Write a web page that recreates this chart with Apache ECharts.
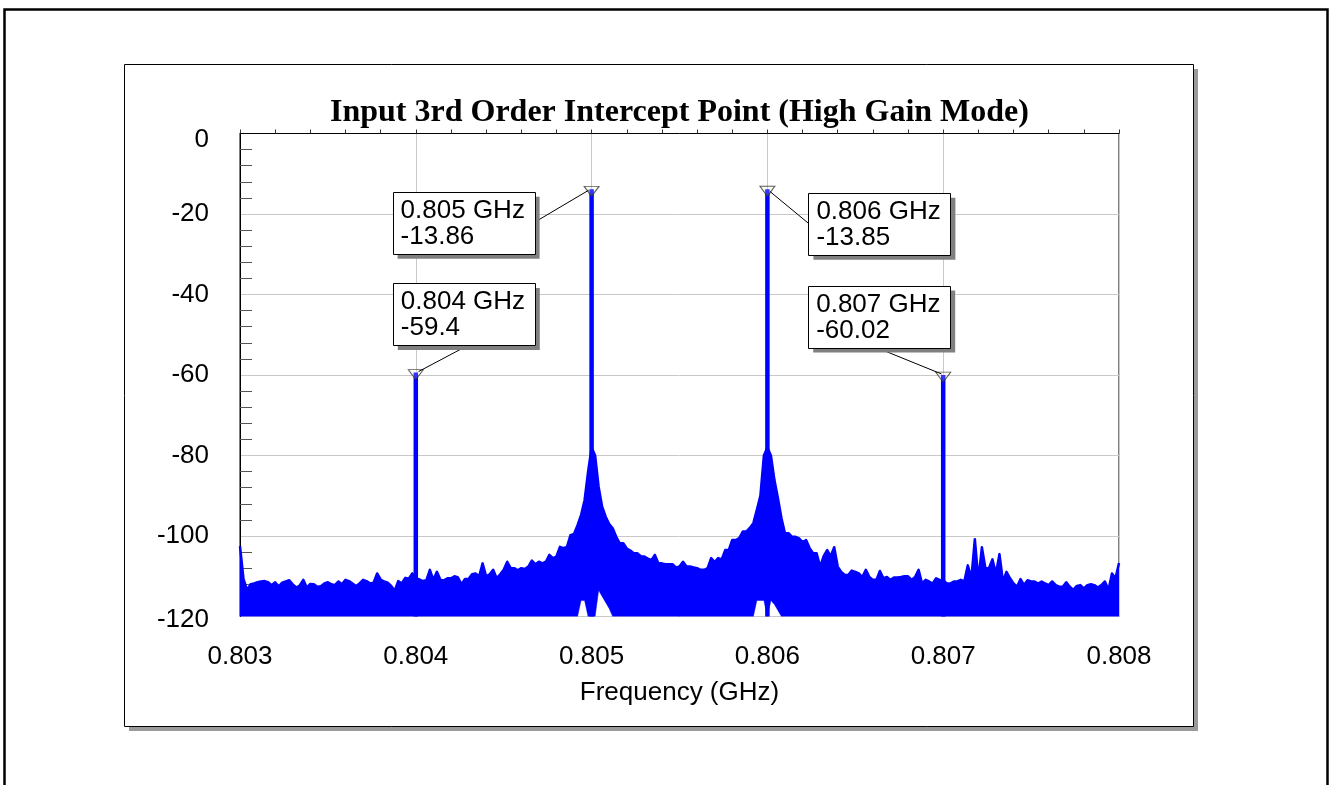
<!DOCTYPE html>
<html><head><meta charset="utf-8">
<script src="https://cdn.jsdelivr.net/npm/echarts@6/dist/echarts.min.js"></script>
<style>html,body{margin:0;padding:0;background:#fff}#c{width:1330px;height:785px}</style>
</head><body><div id="c"></div>
<script>
// ---------- data ----------
const chartTitle = 'Input 3rd Order Intercept Point (High Gain Mode)';
const xAxisName = 'Frequency (GHz)';
const xTickLabels = ['0.803', '0.804', '0.805', '0.806', '0.807', '0.808'];
const yTickLabels = ['0', '-20', '-40', '-60', '-80', '-100', '-120'];
const sweepStart = 0.803;      // GHz, first trace bin
const sweepStep = 0.00002;     // GHz between trace bins
// upper envelope of the measured spectrum trace (dBm), one value per bin
const upperEnvelope = [
  -102.5, -110.7, -113.4, -112, -111.8, -111.5, -111.3, -111.2, -111.5, -112.2,
  -111.5, -112.5, -111.6, -111.3, -111, -112, -112.8, -112.3, -110.9, -112.8,
  -111.9, -112, -112.6, -112.5, -111.8, -111.5, -112, -112.2, -111.3, -112,
  -110.9, -111.2, -111.8, -112.4, -111.8, -110.9, -111.2, -111.8, -111.6, -109.3,
  -110.8, -111.3, -111.6, -112.4, -113.6, -111.2, -111.8, -110.4, -110.6, -109.3,
  -110.5, -110.8, -111.2, -111, -108.4, -110.9, -108.9, -110.9, -111, -110.5,
  -110.5, -110, -110.3, -112, -110.7, -110.7, -109.5, -109.3, -110, -106.8,
  -110, -109.5, -108.4, -110.5, -109.5, -108.4, -106.4, -108, -108, -108.5,
  -108, -108.2, -107.6, -106.1, -107, -106.4, -106.8, -106.4, -104.7, -105.5,
  -105.1, -102.7, -103, -102.7, -99.8, -99.5, -97.3, -94.8, -91.1, -84,
  -78, -80, -87.8, -92.7, -95.2, -97, -98.1, -100.2, -101.8, -101.8,
  -103.1, -103.6, -104.3, -104.3, -105, -105.1, -105.6, -106, -104.7, -106.8,
  -106.8, -107, -107, -107, -107.8, -107.6, -106.4, -107.6, -107.6, -107.8,
  -108, -108.4, -108.4, -108, -105.5, -106.5, -105.5, -105.8, -103.5, -103.5,
  -101, -101, -100.5, -98.9, -98.9, -98, -96.8, -93.5, -90, -80,
  -78, -80, -86.1, -90.6, -95.6, -99.3, -99.3, -100.2, -100.2, -100.6,
  -101.5, -101, -103, -104.3, -104.3, -107.6, -105, -103.5, -105, -102.8,
  -107.6, -108.9, -109.7, -109.7, -108.6, -108.9, -109.3, -110.2, -108.4, -110.2,
  -110.9, -110.9, -108.7, -110.5, -110.2, -110.9, -110.3, -110.3, -110.2, -110,
  -110, -110.9, -110.2, -108.4, -111.8, -110.9, -111.3, -111.8, -110.5, -110.9,
  -111, -111.8, -111.8, -111.3, -111.3, -110.9, -111.3, -107.3, -110.5, -100.8,
  -110.9, -102.8, -108, -108, -105.8, -109.3, -104.5, -111.3, -108.9, -110.5,
  -111.8, -112.6, -110.7, -112.2, -111, -111.3, -111.3, -111.8, -111.3, -111.8,
  -112.2, -111.3, -112.2, -112.6, -112.6, -111.5, -112.6, -113.4, -112.4, -112.2,
  -113, -112.2, -112, -112.2, -112.8, -112.2, -111.3, -113.4, -109.3, -110.5,
  -106.7
];
// lower envelope: below the axis floor everywhere except these bins near the carriers
const belowAxisFloor = -130;
const gapFreqs  = [0.80494, 0.80496, 0.80504, 0.80506, 0.80508, 0.8051, 0.80594, 0.80596, 0.80598, 0.80602, 0.80604, 0.80606];
const gapFloors = [-116, -116, -113.5, -115, -116.5, -118, -116, -116, -116, -116, -117, -118.5];
// marked tones
const toneFreqs  = [0.804, 0.805, 0.806, 0.807];
const toneLevels = [-59.4, -13.86, -13.85, -60.02];
const toneFreqLabels  = ['0.804 GHz', '0.805 GHz', '0.806 GHz', '0.807 GHz'];
const toneLevelLabels = ['-59.4', '-13.86', '-13.85', '-60.02'];

// ---------- build ----------
const SANS = "'Liberation Sans', Arial, sans-serif";
const SERIF = "'Liberation Serif', 'Times New Roman', serif";
const BLUE = '#0000ff';
const Y_MIN = -120, Y_MAX = 0;

const lower = upperEnvelope.map(() => belowAxisFloor);
gapFreqs.forEach((f, k) => { lower[Math.round((f - sweepStart) / sweepStep)] = gapFloors[k]; });
const freqs = upperEnvelope.map((_, i) => +(sweepStart + i * sweepStep).toFixed(5));
const upperData = freqs.map((f, i) => [f, upperEnvelope[i]]);
const bandData = freqs.map((f, i) => [f, upperEnvelope[i], lower[i]]);

const toneSeries = toneFreqs.map((f, k) => ({
  type: 'line', data: [[f, Y_MIN], [f, toneLevels[k]]], symbol: 'none', silent: true,
  lineStyle: { color: BLUE, width: 4.5, cap: 'butt' }, z: 3, animation: false
}));

function renderBand(params, api) {
  if (params.dataIndex !== 0) return null;
  const top = [], bottom = [];
  for (let i = 0; i < bandData.length; i++) {
    const d = bandData[i];
    top.push(api.coord([d[0], Math.max(d[1], Y_MIN)]));
    bottom.push(api.coord([d[0], Math.max(d[2], Y_MIN)]));
  }
  const pts = top.concat(bottom.reverse());
  return { type: 'polygon', shape: { points: pts }, style: { fill: BLUE, stroke: BLUE, lineWidth: 0.5 } };
}

function yLabel(v) {
  const k = Math.round(-v / 20);
  if (k === 0) return '{t|' + yTickLabels[k] + '}';
  if (k === 6) return '{b|' + yTickLabels[k] + '}';
  return yTickLabels[k];
}

const chart = echarts.init(document.getElementById('c'), null, { renderer: 'canvas' });
chart.setOption({
  animation: false,
  backgroundColor: '#fff',
  grid: { left: 240, top: 133.5, width: 879, height: 483, show: true, borderColor: '#000', borderWidth: 1, backgroundColor: 'transparent' },
  xAxis: {
    type: 'value', min: 0.803, max: 0.808, interval: 0.001,
    name: xAxisName, nameLocation: 'middle', nameGap: 63,
    nameTextStyle: { fontFamily: SANS, fontSize: 26, color: '#000' },
    axisLine: { show: true, lineStyle: { color: '#000', width: 1 } },
    axisTick: { show: true, inside: true, length: 4, lineStyle: { color: '#333' } },
    minorTick: { show: true, splitNumber: 5, length: 4, lineStyle: { color: '#333' } },
    splitLine: { show: true, lineStyle: { color: '#c8c8c8', width: 1 } },
    axisLabel: { margin: 27, fontFamily: SANS, fontSize: 26, color: '#000',
      formatter: v => xTickLabels[Math.round((v - 0.803) / 0.001)] }
  },
  yAxis: {
    type: 'value', min: Y_MIN, max: Y_MAX, interval: 20,
    axisLine: { show: true, lineStyle: { color: '#000', width: 1 } },
    axisTick: { show: false, inside: true },
    minorTick: { show: true, splitNumber: 5, length: 12, lineStyle: { color: '#555' } },
    splitLine: { show: true, lineStyle: { color: '#c8c8c8', width: 1 } },
    axisLabel: { margin: 31, fontFamily: SANS, fontSize: 26, color: '#000', formatter: yLabel,
      rich: { t: { fontFamily: SANS, fontSize: 26, color: '#000', padding: [13, 0, 0, 0] },
              b: { fontFamily: SANS, fontSize: 26, color: '#000', padding: [7, 0, 0, 0] } } }
  },
  series: [
    { type: 'custom', name: 'band', data: bandData, renderItem: renderBand, silent: true, clip: true, z: 2,
      encode: { x: 0, y: [1, 2] } },
    { type: 'line', name: 'trace', data: upperData, symbol: 'none', silent: true,
      lineStyle: { color: BLUE, width: 2.5, join: 'round' }, z: 2 },
    ...toneSeries,
    { type: 'scatter', data: toneFreqs.map((f, k) => [f, toneLevels[k]]), symbol: 'triangle',
      symbolRotate: 180, symbolSize: [15, 10], symbolOffset: [0, 2], silent: true,
      itemStyle: { color: 'rgba(255,255,255,0.25)', borderColor: '#333', borderWidth: 1 }, z: 5 }
  ]
});

// annotation boxes positioned relative to the markers (layout offsets)
const boxW = 142, boxH = 62;
const boxOffsets = [[-23, -89.5], [-199, 2.5], [41, 3.5], [-135, -89.5]];
const leaderStart = [[51, -26.6], [-56.6, 32.7], [41, 34], [-65, -26.8]];
const leaderEnd = [[2.7, -1], [-3, 1], [2.6, 2.3], [-1.7, -1.1]];

const graphics = [
  { type: 'rect', z: -10, silent: true, shape: { x: 129, y: 69, width: 1069, height: 662 }, style: { fill: '#9a9a9a' } },
  { type: 'rect', z: -9, silent: true, shape: { x: 124.5, y: 64.5, width: 1069, height: 662 }, style: { fill: '#fff', stroke: '#000', lineWidth: 1 } },
  { type: 'rect', z: -8, silent: true, shape: { x: 4.5, y: 9.5, width: 1323, height: 800 }, style: { fill: 'none', stroke: '#000', lineWidth: 2.5 } },
  { type: 'text', z: 50, silent: true, x: 679.5, y: 113, style: { text: chartTitle, font: 'bold 32px ' + SERIF, fill: '#000', align: 'center', verticalAlign: 'middle' } }
];
toneFreqs.forEach((f, k) => {
  const p = chart.convertToPixel({ gridIndex: 0 }, [f, toneLevels[k]]);
  const bx = p[0] + boxOffsets[k][0], by = p[1] + boxOffsets[k][1];
  graphics.push(
    { type: 'line', z: 60, silent: true, shape: { x1: p[0] + leaderStart[k][0], y1: p[1] + leaderStart[k][1], x2: p[0] + leaderEnd[k][0], y2: p[1] + leaderEnd[k][1] }, style: { stroke: '#000', lineWidth: 1 } },
    { type: 'rect', z: 61, silent: true, shape: { x: bx + 5, y: by + 5, width: boxW, height: boxH }, style: { fill: '#808080' } },
    { type: 'rect', z: 62, silent: true, shape: { x: Math.round(bx) + 0.5, y: Math.round(by) + 0.5, width: boxW, height: boxH }, style: { fill: '#fff', stroke: '#000', lineWidth: 1 } },
    { type: 'text', z: 63, silent: true, x: bx + 8, y: by + 19, style: { text: toneFreqLabels[k], font: '26px ' + SANS, fill: '#000', align: 'left', verticalAlign: 'middle' } },
    { type: 'text', z: 63, silent: true, x: bx + 8, y: by + 45, style: { text: toneLevelLabels[k], font: '26px ' + SANS, fill: '#000', align: 'left', verticalAlign: 'middle' } }
  );
});
chart.setOption({ graphic: graphics });
</script></body></html>
